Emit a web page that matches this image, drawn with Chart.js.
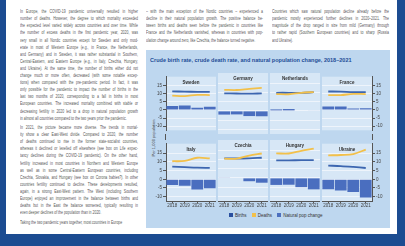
<!DOCTYPE html>
<html>
<head>
<meta charset="utf-8">
<script src="https://cdn.jsdelivr.net/npm/chart.js@4.4.0/dist/chart.umd.min.js"></script>
<style>
  html, body { margin: 0; padding: 0; }
  body { width: 405px; height: 246px; position: relative; overflow: hidden; background: #fff;
         font-family: "Liberation Sans Narrow", "Liberation Sans", Arial, sans-serif; }
  .frame { position: absolute; background: #1c4c91; }
  .col { position: absolute; color: #575757; font-size: 5.3px; line-height: 7.1px;
         transform-origin: 0 0; transform: scaleX(0.66); }
  .col div { text-align: justify; text-align-last: justify; height: 7.1px; }
  .col div.end { text-align-last: left; }
  .box { position: absolute; left: 146px; top: 50px; width: 244px; height: 178px; background: #bed7ef; }
  .title { position: absolute; left: 150px; top: 57px; font-size: 6px; font-weight: bold; color: #1f4e97;
           white-space: nowrap; transform-origin: 0 0; transform: scaleX(0.92); }
  .ytitle { position: absolute; left: 153px; top: 138px; font-size: 4px; color: #444; white-space: nowrap;
            transform: translate(-50%, -50%) rotate(-90deg); }
  .axisline { position: absolute; width: 1px; background: #555; }
  .legend { position: absolute; top: 212.5px; left: 229px; font-size: 4.5px; color: #333; white-space: nowrap;
            line-height: 5px; }
  .legend span.sw { display: inline-block; width: 4px; height: 4px; vertical-align: -0.5px; margin-right: 2px; }
  .legend span.item { margin-right: 4px; }
  canvas { position: absolute; }
</style>
</head>
<body>
<div class="frame" style="left:0;top:0;width:6px;height:246px"></div>
<div class="frame" style="left:397px;top:0;width:8px;height:246px"></div>
<div class="frame" style="left:0;top:234px;width:405px;height:12px"></div>

<div id="text"></div>

<div class="box"></div>
<div class="title">Crude birth rate, crude death rate, and natural population change, 2018–2021</div>
<div class="ytitle">Per 1,000 population</div>
<div class="axisline" style="left:165px;top:134px;height:6px"></div>
<div class="axisline" style="left:372px;top:134px;height:6px"></div>
<div class="legend">
  <span class="item"><span class="sw" style="background:#2a4f9f"></span>Births</span>
  <span class="item"><span class="sw" style="background:#f2c04a"></span>Deaths</span>
  <span class="item"><span class="sw" style="background:#4d70bf"></span>Natural pop change</span>
</div>

<script>
// texte des colonnes (une ligne par entrée)
const col1 = [
  ['In Europe, the COVID-19 pandemic universally resulted in higher',
   'number of deaths. However, the degree to which mortality exceeded',
   'the expected level varied widely across countries and over time. While',
   'the number of excess deaths in the first pandemic year, 2020, was',
   'very small in all Nordic countries except for Sweden and only mod-',
   'erate in most of Western Europe (e.g., in France, the Netherlands,',
   'and Germany) and in Sweden, it was rather substantial in Southern,',
   'Central-Eastern, and Eastern Europe (e.g., in Italy, Czechia, Hungary,',
   'and Ukraine). At the same time, the number of births either did not',
   'change much or more often, decreased (with some notable excep-',
   'tions) when compared with the pre-pandemic period. In fact, it was',
   'only possible for the pandemic to impact the number of births in the',
   'last two months of 2020, corresponding to a fall in births in most',
   'European countries. The increased mortality combined with stable or',
   'decreasing fertility in 2020 led to a drop in natural population growth',
   'in almost all countries compared to the two years prior the pandemic.'],
  ['In 2021, the picture became more diverse. The trends in mortal-',
   'ity show a clear East-West divide. Compared to 2020, the number',
   'of deaths continued to rise in the former state-socialist countries,',
   'whereas it declined or levelled off elsewhere (see box on Life expec-',
   'tancy declines during the COVID-19 pandemic). On the other hand,',
   'fertility increased in most countries in Northern and Western Europe',
   'as well as in some Central-Eastern European countries, including',
   'Czechia, Slovakia, and Hungary (see box on Corona babies?). In other',
   'countries fertility continued to decline. These developments resulted,',
   'again, in a strong East-West pattern. The West (including Southern',
   'Europe) enjoyed an improvement in the balance between births and',
   'deaths but in the East the balance worsened, typically resulting in',
   'even deeper declines of the population than in 2020.'],
  ['Taking the two pandemic years together, most countries in Europe']
];
const col2 = [
  ['– with the main exception of the Nordic countries – experienced a',
   'decline in their natural population growth. The positive balance be-',
   'tween births and deaths seen before the pandemic in countries like',
   'France and the Netherlands vanished, whereas in countries with pop-',
   'ulation change around zero, like Czechia, the balance turned negative.']
];
const col3 = [
  ['Countries which saw natural population decline already before the',
   'pandemic mostly experienced further declines in 2020–2021. The',
   'magnitude of the drop ranged in size from mild (Germany) through',
   'to rather rapid (Southern European countries) and to sharp (Russia',
   'and Ukraine).']
];

// données du graphique
const years = ['2018', '2019', '2020', '2021'];
const countries = ['Sweden', 'Germany', 'Netherlands', 'France', 'Italy', 'Czechia', 'Hungary', 'Ukraine'];
const birthRate = [
  [11.5, 11.3, 11.2, 11.2],
  [9.5, 9.4, 9.3, 9.5],
  [9.8, 9.8, 9.7, 10.1],
  [11.4, 11.3, 11.0, 11.0],
  [7.3, 7.0, 6.7, 6.6],
  [10.6, 10.5, 10.6, 10.9],
  [9.5, 9.5, 9.6, 9.6],
  [7.9, 7.6, 7.1, 6.5]
];
const deathRate = [
  [8.8, 8.6, 9.3, 9.2],
  [11.4, 11.3, 11.9, 12.4],
  [9.1, 9.0, 9.8, 10.2],
  [9.2, 9.2, 9.9, 9.8],
  [10.4, 10.6, 12.4, 12.0],
  [10.4, 10.4, 12.1, 13.2],
  [13.3, 13.2, 14.6, 15.8],
  [13.8, 14.0, 14.5, 17.1]
];
const naturalChange = [
  [2.4, 2.7, 1.4, 2.0],
  [-2.0, -1.9, -2.8, -2.9],
  [0.8, 1.0, 0.0, 0.3],
  [2.1, 2.1, 0.9, 1.0],
  [-3.3, -3.7, -5.9, -5.2],
  [0.2, 0.0, -1.8, -2.6],
  [-3.8, -3.7, -5.0, -6.2],
  [-5.8, -6.5, -7.3, -10.5]
];
const yTicks = [-10, -5, 0, 5, 10, 15];

// colonnes de texte
function addColumn(paragraphs, left, top, width) {
  const el = document.createElement('div');
  el.className = 'col';
  el.style.left = left + 'px';
  el.style.top = top + 'px';
  el.style.width = (width / 0.66) + 'px';
  paragraphs.forEach((lines, p) => {
    lines.forEach((line, i) => {
      const d = document.createElement('div');
      d.textContent = line;
      if (i === lines.length - 1) d.className = 'end';
      if (p > 0 && i === 0) d.style.marginTop = '2.4px';
      el.appendChild(d);
    });
  });
  document.getElementById('text').appendChild(el);
}
addColumn(col1, 20, 8.2, 118);
addColumn(col2, 146, 8.2, 117);
addColumn(col3, 272, 8.2, 117);

// géométrie des panneaux
const PANEL_W = 50, PANEL_H = 61, GAP = 2;
const LEFT = 166, TOPS = [73, 140];
const AXIS_L = 14, AXIS_R = 12, AXIS_B = 9;
const Y_MIN = -12.5, Y_MAX = 20.5;

Chart.defaults.font.family = '"Liberation Sans Narrow", "Liberation Sans", Arial, sans-serif';

// fond du panneau et nom du pays
const panelPlugin = {
  id: 'panel',
  beforeDraw(chart) {
    const { ctx, chartArea: a } = chart;
    ctx.save();
    ctx.fillStyle = '#d7e7f6';
    ctx.fillRect(a.left, a.top, a.right - a.left, a.bottom - a.top);
    ctx.restore();
  },
  afterDraw(chart, args, opts) {
    const { ctx, chartArea: a } = chart;
    ctx.save();
    ctx.font = 'bold 4.5px "Liberation Sans Narrow", "Liberation Sans", Arial, sans-serif';
    ctx.fillStyle = '#333';
    ctx.textAlign = 'center';
    ctx.textBaseline = 'middle';
    ctx.fillText(opts.name, (a.left + a.right) / 2, a.top + 6);
    ctx.restore();
  }
};

function setTicks(scale) {
  scale.ticks = yTicks.map(v => ({ value: v }));
}

function makePanel(i) {
  const row = Math.floor(i / 4), col = i % 4;
  const first = col === 0, last = col === 3, bottom = row === 1;

  const canvas = document.createElement('canvas');
  const w = PANEL_W + (first ? AXIS_L : 0) + (last ? AXIS_R : 0);
  const h = PANEL_H + (bottom ? AXIS_B : 0);
  canvas.width = w;
  canvas.height = h;
  canvas.style.width = w + 'px';
  canvas.style.height = h + 'px';
  canvas.style.left = (LEFT + col * (PANEL_W + GAP) - (first ? AXIS_L : 0)) + 'px';
  canvas.style.top = TOPS[row] + 'px';
  document.body.appendChild(canvas);

  const tickFont = { size: 4.5 };
  const scales = {
    x: {
      display: bottom,
      offset: true,
      grid: { drawOnChartArea: false, offset: false, tickLength: 2.5, tickColor: '#555' },
      border: { color: '#555' },
      ticks: { font: tickFont, color: '#444', padding: 0, maxRotation: 0, autoSkip: false },
      afterFit: s => { s.height = bottom ? AXIS_B : 0; }
    },
    y: {
      min: Y_MIN, max: Y_MAX,
      afterBuildTicks: setTicks,
      grid: { color: '#eef4fb', drawTicks: first, tickLength: 3, tickColor: '#555' },
      border: { display: first, color: '#555' },
      ticks: { display: first, font: tickFont, color: '#444', padding: 1 },
      afterFit: s => { s.width = first ? AXIS_L : 0; }
    }
  };
  if (last) {
    scales.yR = {
      position: 'right',
      min: Y_MIN, max: Y_MAX,
      afterBuildTicks: setTicks,
      grid: { drawOnChartArea: false, tickLength: 3, tickColor: '#555' },
      border: { color: '#555' },
      ticks: { font: tickFont, color: '#444', padding: 1 },
      afterFit: s => { s.width = AXIS_R; }
    };
  }

  new Chart(canvas, {
    type: 'bar',
    data: {
      labels: years,
      datasets: [
        {
          type: 'line',
          label: 'Deaths',
          data: deathRate[i],
          borderColor: '#f2c04a',
          borderWidth: 1.8,
          pointRadius: 0,
          tension: 0.35
        },
        {
          type: 'line',
          label: 'Births',
          data: birthRate[i],
          borderColor: '#3c66b0',
          borderWidth: 1.8,
          pointRadius: 0,
          tension: 0.35
        },
        {
          label: 'Natural pop change',
          data: naturalChange[i],
          backgroundColor: '#4a6ebf',
          barPercentage: 0.94,
          categoryPercentage: 1
        }
      ]
    },
    options: {
      responsive: false,
      animation: false,
      layout: { padding: 0 },
      plugins: {
        legend: { display: false },
        tooltip: { enabled: false },
        panel: { name: countries[i] }
      },
      scales
    },
    plugins: [panelPlugin]
  });
}

countries.forEach((c, i) => makePanel(i));
</script>
</body>
</html>
